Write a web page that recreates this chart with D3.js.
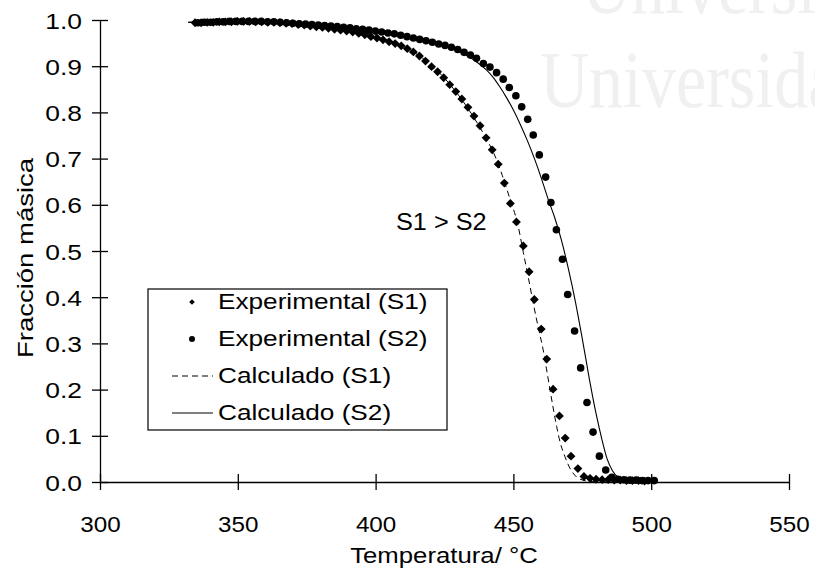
<!DOCTYPE html>
<html>
<head>
<meta charset="utf-8">
<script src="https://cdn.jsdelivr.net/npm/d3@7"></script>
<style>
  body { margin: 0; background: #fff; }
  svg { display: block; }
</style>
</head>
<body>
<div id="chart"></div>
<script>
// Data: [temperature °C, mass fraction]
const xTicks = [300, 350, 400, 450, 500, 550];
const yTicks = [0, 0.1, 0.2, 0.3, 0.4, 0.5, 0.6, 0.7, 0.8, 0.9, 1.0];

const expS1 = [
  [334.5, .994], [336.7, .994], [338.9, .995], [341.1, .995], [343.3, .996], [345.5, .996],
  [347.7, .996], [349.9, .997], [352.1, .997], [354.3, .997], [356.5, .996], [358.7, .996],
  [360.9, .995], [363.1, .995], [365.3, .994], [367.5, .993], [369.7, .992], [371.9, .990],
  [374.1, .989], [376.3, .987], [378.5, .985], [380.7, .984], [382.9, .982], [385.1, .980],
  [387.3, .978], [389.5, .976], [391.7, .974], [393.9, .971], [396.1, .968], [398.3, .964],
  [400.5, .961], [402.7, .957], [404.9, .953], [407.1, .949], [409.3, .944], [411.5, .938],
  [413.7, .931], [415.9, .922], [418.1, .911], [420.3, .899], [422.5, .888], [424.7, .875],
  [426.9, .860], [429.1, .845], [431.3, .829], [433.5, .811], [435.7, .792], [437.9, .771],
  [440.1, .745], [442.3, .719], [444.5, .688], [446.7, .647], [448.9, .603], [451.1, .563],
  [453.6, .511], [455.7, .455], [457.6, .395], [460.1, .331], [462.1, .266], [464.4, .201],
  [466.7, .143], [468.8, .095], [470.9, .056], [473.4, .029], [475.6, .012], [477.8, .008],
  [480.0, .006], [482.2, .005], [484.4, .005], [486.6, .004], [488.8, .004], [491.0, .003],
  [493.2, .003], [495.4, .003], [497.6, .002]
];

const expS2 = [
  [335.5, .994], [337.8, .995], [340.1, .995], [342.4, .996], [344.7, .996], [347.0, .997],
  [349.3, .997], [351.6, .997], [353.9, .997], [356.2, .997], [358.5, .997], [360.8, .996],
  [363.1, .996], [365.4, .995], [367.7, .994], [370.0, .993], [372.3, .992], [374.6, .991],
  [376.9, .990], [379.2, .989], [381.5, .988], [383.8, .987], [386.1, .986], [388.4, .984],
  [390.7, .983], [393.0, .981], [395.3, .980], [397.6, .978], [399.9, .976], [402.2, .974],
  [404.5, .972], [406.8, .970], [409.1, .967], [411.4, .964], [413.7, .961], [416.0, .958],
  [418.3, .955], [420.6, .952], [422.9, .948], [425.2, .945], [427.5, .941], [429.8, .936],
  [432.1, .930], [434.4, .924], [436.6, .917], [439.1, .906], [441.5, .898], [443.9, .886],
  [446.3, .872], [448.5, .854], [450.9, .836], [453.0, .812], [455.2, .785], [457.2, .751],
  [459.4, .708], [461.7, .660], [463.6, .605], [465.6, .546], [467.8, .482], [469.7, .406],
  [472.2, .327], [474.4, .247], [476.7, .172], [478.9, .108], [481.2, .056], [483.5, .026],
  [485.7, .010], [487.9, .006], [490.1, .005], [492.3, .004], [494.5, .004], [496.7, .003],
  [498.9, .003], [501.1, .003]
];

const calcS1 = [
  [332, .995], [340, .995], [350, .996], [360, .995], [370, .991], [380, .984], [390, .974],
  [400, .961], [405, .953], [410, .943], [415, .926], [420, .903], [425, .874], [430, .838],
  [435, .795], [440, .745], [443, .710], [446, .663], [449, .608], [451.5, .560], [453.6, .497],
  [455.5, .440], [457.2, .387], [459, .335], [460.8, .286], [462, .245], [463.3, .199],
  [464.5, .158], [465.7, .120], [467, .085], [468.7, .055], [470.5, .030], [472.9, .011],
  [475.2, .004], [478, .001], [485, 0]
];

const calcS2 = [
  [332, .995], [340, .996], [350, .997], [360, .996], [370, .993], [380, .989], [390, .984],
  [400, .977], [410, .967], [420, .953], [428, .937], [432, .927], [436, .912], [440, .893],
  [442.5, .877], [445, .856], [447.5, .832], [450, .805], [452.5, .774], [455, .740],
  [457.5, .702], [460, .660], [462.5, .614], [465, .572], [467.5, .522], [470, .460],
  [472.5, .390], [475, .310], [477.5, .225], [480, .148], [482, .095], [484, .050],
  [486, .024], [488, .010], [490, .004], [495, .001], [500, 0]
];

const legendLabels = ['Experimental (S1)', 'Experimental (S2)', 'Calculado (S1)', 'Calculado (S2)'];
const xTitle = 'Temperatura/ °C';
const yTitle = 'Fracción másica';
const note = 'S1 > S2';

const W = 815, H = 573;
const font = '"Liberation Sans", Arial, Helvetica, sans-serif';

const svg = d3.select('#chart').append('svg')
    .attr('width', W)
    .attr('height', H);

const x = d3.scaleLinear().domain([300, 550]).range([100, 789]);
const y = d3.scaleLinear().domain([0, 1]).range([482, 20]);

// faint watermark of the scanned page
const wm = svg.append('g')
    .attr('fill', '#f0f0f0')
    .attr('font-family', '"Liberation Serif", "Times New Roman", serif')
    .attr('font-size', 80);
wm.append('text').attr('transform', 'translate(582,13) scale(0.85,1)').text('Universidad');
wm.append('text').attr('transform', 'translate(540,107) scale(0.85,1)').text('Universidad');

// text in the scan is a little wider than Arial, so glyphs get stretched
const label = (sel, px, py, txt, size, sx, anchor) => sel.append('text')
    .attr('transform', `translate(${px},${py}) scale(${sx},1)`)
    .attr('font-family', font)
    .attr('font-size', size)
    .attr('text-anchor', anchor || 'start')
    .attr('fill', '#000')
    .text(txt);

// Axes
const yAxis = svg.append('g')
    .attr('transform', `translate(${x(300)},0)`)
    .call(d3.axisLeft(y).tickValues(yTicks).tickFormat(d3.format('.1f'))
        .tickSizeInner(8).tickSizeOuter(0));
yAxis.selectAll('.tick line').attr('x1', 8);
yAxis.selectAll('.tick text')
    .attr('x', -18 / 1.2).attr('dy', null).attr('y', 8)
    .attr('transform', 'scale(1.2,1)')
    .attr('font-size', 22).attr('font-family', font);

const xAxis = svg.append('g')
    .attr('transform', `translate(0,${y(0)})`)
    .call(d3.axisBottom(x).tickValues(xTicks).tickFormat(d3.format('d'))
        .tickSizeInner(8).tickSizeOuter(0));
xAxis.selectAll('.tick line').attr('y1', -8);
xAxis.selectAll('.tick text')
    .attr('y', 50).attr('dy', null).attr('x', 0)
    .attr('transform', 'scale(1.1,1)')
    .attr('font-size', 22).attr('font-family', font);

svg.selectAll('.domain, .tick line')
    .attr('stroke', '#000')
    .attr('stroke-width', 1.3);

// Axis titles
label(svg, 444, 563, xTitle, 22, 1.17, 'middle');
svg.append('text')
    .attr('transform', 'translate(33,258) rotate(-90) scale(1.25,1)')
    .attr('font-family', font)
    .attr('font-size', 22)
    .attr('text-anchor', 'middle')
    .text(yTitle);

// Calculated curves
const line = d3.line()
    .x(d => x(d[0]))
    .y(d => y(d[1]))
    .curve(d3.curveMonotoneX);

svg.append('path')
    .datum(calcS1)
    .attr('d', line)
    .attr('fill', 'none')
    .attr('stroke', '#000')
    .attr('stroke-width', 1)
    .attr('stroke-dasharray', '6,4');

svg.append('path')
    .datum(calcS2)
    .attr('d', line)
    .attr('fill', 'none')
    .attr('stroke', '#000')
    .attr('stroke-width', 1.1);

// Experimental points
const diamond = d3.symbol().type(d3.symbolDiamond2).size(50);

svg.append('g')
  .selectAll('path')
  .data(expS1)
  .join('path')
    .attr('d', diamond)
    .attr('transform', d => `translate(${x(d[0])},${y(d[1])})`)
    .attr('fill', '#000');

svg.append('g')
  .selectAll('circle')
  .data(expS2)
  .join('circle')
    .attr('cx', d => x(d[0]))
    .attr('cy', d => y(d[1]))
    .attr('r', 3.8)
    .attr('fill', '#000');

// Annotation
label(svg, 396, 230, note, 23, 1.1);

// Legend
const legend = svg.append('g');
legend.append('rect')
    .attr('x', 148).attr('y', 289)
    .attr('width', 299).attr('height', 141)
    .attr('fill', '#fff')
    .attr('stroke', '#000')
    .attr('stroke-width', 1.2);

const rowY = [302, 339, 376, 413];
legend.append('path')
    .attr('d', d3.symbol().type(d3.symbolDiamond2).size(20))
    .attr('transform', `translate(192,${rowY[0]})`);
legend.append('circle')
    .attr('cx', 192).attr('cy', rowY[1]).attr('r', 3);
legend.append('line')
    .attr('x1', 172).attr('x2', 213).attr('y1', rowY[2]).attr('y2', rowY[2])
    .attr('stroke', '#000').attr('stroke-dasharray', '6,4');
legend.append('line')
    .attr('x1', 172).attr('x2', 213).attr('y1', rowY[3]).attr('y2', rowY[3])
    .attr('stroke', '#000');

legendLabels.forEach((t, i) => label(legend, 218, rowY[i] + 7, t, 22, 1.19));
</script>
</body>
</html>
